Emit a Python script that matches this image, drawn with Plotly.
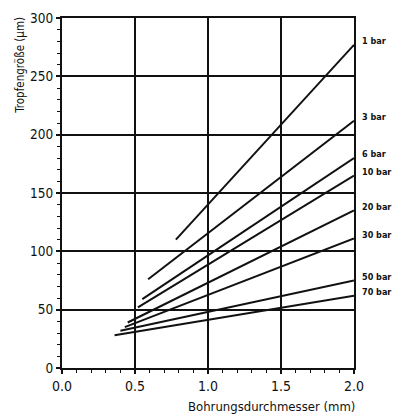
import plotly.graph_objects as go

# Data (Bohrungsdurchmesser mm -> Tropfengröße µm)
series_names = ["1 bar", "3 bar", "6 bar", "10 bar", "20 bar", "30 bar", "50 bar", "70 bar"]
x_start = [0.78, 0.59, 0.55, 0.52, 0.45, 0.43, 0.40, 0.36]
y_start = [110, 76, 59, 52, 39, 35, 32, 28]
x_end = [2.0, 2.0, 2.0, 2.0, 2.0, 2.0, 2.0, 2.0]
y_end = [277, 212, 180, 165, 135, 111, 75, 62]

x_ticks = [0.0, 0.5, 1.0, 1.5, 2.0]
x_ticklabels = ["0.0", "0.5", "1.0", "1.5", "2.0"]
y_ticks = [0, 50, 100, 150, 200, 250, 300]

FONT = "DejaVu Sans Condensed, Liberation Sans Narrow, Arial Narrow, sans-serif"

fig = go.Figure()
for name, x0, y0, x1, y1 in zip(series_names, x_start, y_start, x_end, y_end):
    fig.add_trace(go.Scatter(x=[x0, x1], y=[y0, y1], mode="lines", name=name,
                             line=dict(color="#111111", width=2), showlegend=False))
    fig.add_annotation(x=x1, y=y1, xref="x", yref="y", text=name, showarrow=False,
                       xanchor="left", yanchor="middle", xshift=6, yshift=4,
                       font=dict(family=FONT, size=9, color="#111111", weight="bold"))

fig.add_annotation(x=-0.144, y=0.866, xref="paper", yref="paper", text="Tropfengröße (µm)",
                   showarrow=False, textangle=-90, xanchor="center", yanchor="middle",
                   font=dict(family=FONT, size=11.5, color="#111111"))
fig.add_annotation(x=1.01, y=0, xref="paper", yref="paper", text="Bohrungsdurchmesser (mm)",
                   showarrow=False, xanchor="right", yanchor="middle", yshift=-38,
                   font=dict(family=FONT, size=13, color="#111111"))

fig.update_xaxes(range=[0, 2.0], tickvals=x_ticks, ticktext=x_ticklabels,
                 showline=True, linecolor="#111111", linewidth=2, mirror=True,
                 showgrid=True, gridcolor="#111111", gridwidth=1.5,
                 ticks="outside", ticklen=4, tickcolor="#111111", tickwidth=1.5,
                 minor=dict(dtick=0.1, ticks="outside", ticklen=3, tickcolor="#111111", tickwidth=1, showgrid=False),
                 tickfont=dict(family=FONT, size=14, color="#111111"), zeroline=False,
                 ticklabeloverflow="allow", automargin=False)
fig.update_yaxes(range=[0, 300], tickvals=y_ticks,
                 showline=True, linecolor="#111111", linewidth=2, mirror=True,
                 showgrid=True, gridcolor="#111111", gridwidth=1.5,
                 ticks="outside", ticklen=4, tickcolor="#111111", tickwidth=1.5,
                 minor=dict(dtick=10, ticks="outside", ticklen=3, tickcolor="#111111", tickwidth=1, showgrid=False),
                 tickfont=dict(family=FONT, size=13.5, color="#111111"), zeroline=False,
                 ticklabeloverflow="allow", automargin=False)

fig.update_layout(width=393, height=406, margin=dict(l=54, r=47, t=10, b=46, autoexpand=False),
                  plot_bgcolor="white", paper_bgcolor="white")

fig.write_html("out.html")
